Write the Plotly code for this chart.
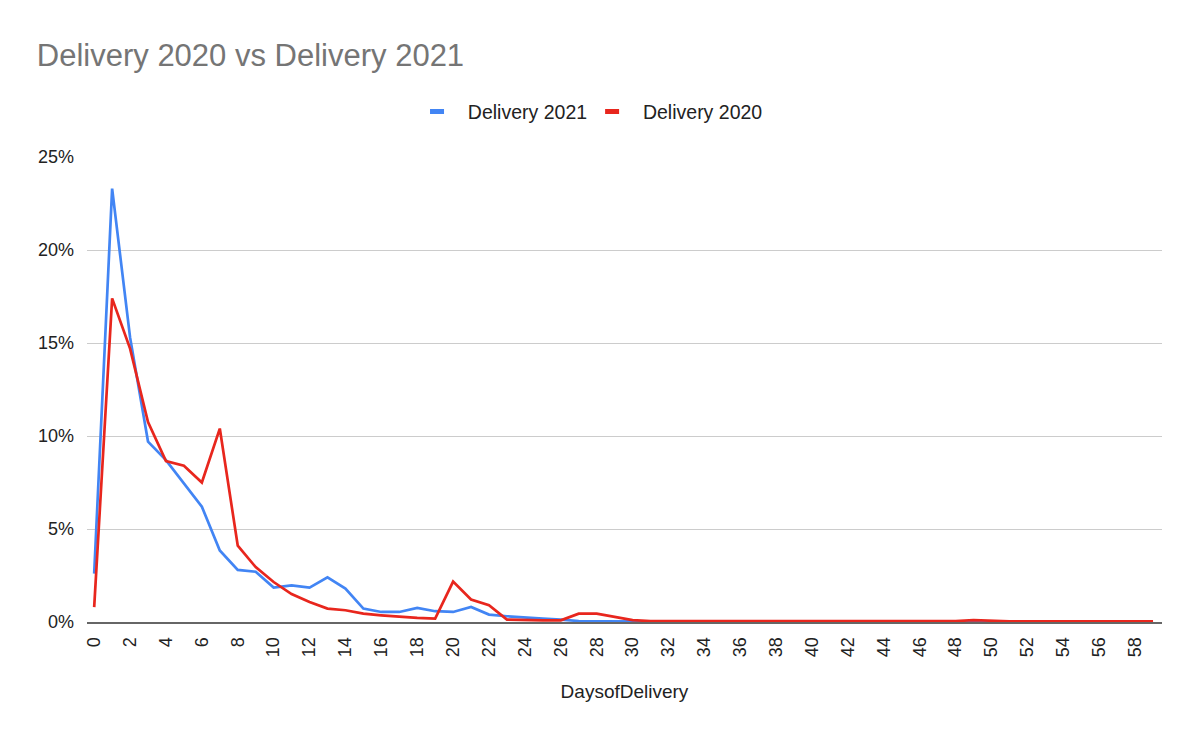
import plotly.graph_objects as go

# 배송 소요일 (0~59일)
days = list(range(60))

# 2021 배송 비율 (%)
delivery_2021 = [2.6, 23.3, 15.3, 9.7, 8.7, 7.45, 6.2, 3.85, 2.8, 2.7,
                 1.85, 1.97, 1.85, 2.4, 1.8, 0.72, 0.54, 0.54, 0.76, 0.58,
                 0.54, 0.81, 0.4, 0.31, 0.23, 0.18, 0.13, 0.05, 0.04, 0.03,
                 0.02, 0.02, 0.02, 0.02, 0.02, 0.02, 0.01, 0.01, 0.01, 0.01,
                 0.01, 0.01, 0.01, 0.01, 0.01, 0.01, 0.01, 0.01, 0.01, 0.01,
                 0.01, 0.01, 0.01, 0.01, 0.01, 0.01, 0.01, 0.01, 0.01, 0.01]

# 2020 배송 비율 (%)
delivery_2020 = [0.8, 17.4, 14.7, 10.75, 8.65, 8.4, 7.5, 10.4, 4.1, 2.95,
                 2.15, 1.5, 1.07, 0.72, 0.63, 0.45, 0.36, 0.27, 0.22, 0.18,
                 2.17, 1.21, 0.9, 0.13, 0.09, 0.09, 0.09, 0.45, 0.45, 0.28,
                 0.1, 0.05, 0.05, 0.06, 0.06, 0.05, 0.05, 0.04, 0.04, 0.04,
                 0.04, 0.04, 0.04, 0.03, 0.03, 0.03, 0.03, 0.03, 0.05, 0.1,
                 0.06, 0.04, 0.03, 0.03, 0.03, 0.03, 0.03, 0.03, 0.03, 0.03]

x_ticks = list(range(0, 60, 2))
y_ticks = [0, 5, 10, 15, 20, 25]

series = [('Delivery 2021', delivery_2021, '#4285F4'),
          ('Delivery 2020', delivery_2020, '#E8261D')]

font_family = 'Arial, Liberation Sans, sans-serif'

fig = go.Figure()
for name, values, color in series:
    fig.add_trace(go.Scatter(x=days, y=values, mode='lines', name=name,
                             line=dict(color=color, width=2.7), showlegend=False))
    # 범례용 짧은 선 기호
    fig.add_trace(go.Scatter(x=[None], y=[None], mode='markers',
                             name='\u00a0\u00a0' + name,
                             marker=dict(symbol='line-ew', size=10,
                                         line=dict(color=color, width=5))))

# 페이지 기본 여백(8px) 보정
fig.update_layout(
    width=1200, height=742,
    plot_bgcolor='white', paper_bgcolor='white',
    margin=dict(l=79, r=46, t=149, b=128),
    font=dict(family=font_family, color='#222222', size=18),
    title=dict(text='Delivery 2020 vs Delivery 2021', x=0.024, xanchor='left',
               y=0.937, yanchor='middle',
               font=dict(size=31, color='#757575', family=font_family)),
    legend=dict(orientation='h', x=0.307, xanchor='left', y=1.097, yanchor='middle',
                font=dict(size=19.5, color='#222222'), itemwidth=30,
                traceorder='normal'),
)

fig.update_xaxes(
    range=[-0.4, 59.5], tickmode='array', tickvals=x_ticks,
    ticktext=[str(t) for t in x_ticks], tickangle=-90,
    showgrid=False, showline=True, linecolor='#666666', linewidth=2,
    ticks='', tickfont=dict(size=18, color='#222222'), ticklabelstandoff=6,
    title=dict(text='DaysofDelivery', font=dict(size=19, color='#222222'), standoff=28),
    zeroline=False,
)
fig.update_yaxes(
    range=[0, 25], tickmode='array', tickvals=y_ticks,
    ticktext=[f'{t}%' for t in y_ticks],
    showgrid=True, gridcolor='#CCCCCC', gridwidth=1, zeroline=False,
    tickfont=dict(size=18, color='#222222'), ticks='', ticklabelstandoff=12,
)

fig.write_html("out.html")
